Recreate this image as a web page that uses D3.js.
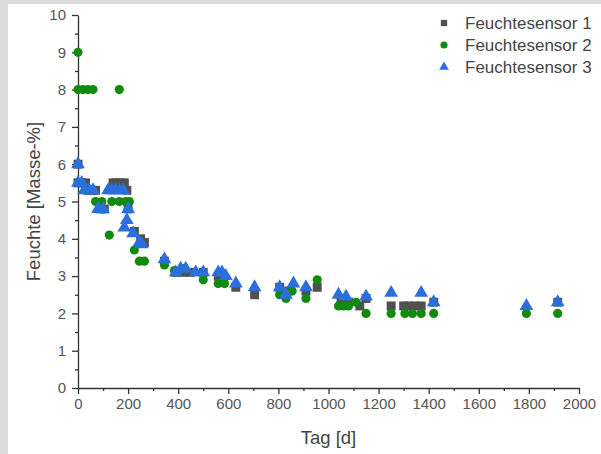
<!DOCTYPE html>
<html>
<head>
<meta charset="utf-8">
<script src="https://cdn.jsdelivr.net/npm/d3@7"></script>
<style>
	body { margin: 0; background: #dcdcdc; }
	text { font-family: "Liberation Sans", Arial, sans-serif; }
</style>
</head>
<body>
<div id="container"></div>
<script>
// sensor readings, day / moisture value
const days1 = [0, 0, 15, 30, 40, 55, 70, 90, 105, 140, 155, 170, 185, 195, 200, 225, 250, 265, 345, 390, 420, 450, 500, 560, 580, 630, 705, 805, 840, 910, 955, 1050, 1080, 1125, 1150, 1250, 1300, 1320, 1345, 1370, 1420, 1915];
const vals1 = [6.0, 5.5, 5.5, 5.5, 5.3, 5.3, 5.3, 4.8, 4.8, 5.5, 5.5, 5.5, 5.5, 5.3, 4.8, 4.2, 4.0, 3.9, 3.4, 3.1, 3.1, 3.1, 3.1, 3.0, 2.9, 2.7, 2.5, 2.7, 2.6, 2.6, 2.7, 2.3, 2.3, 2.2, 2.4, 2.2, 2.2, 2.2, 2.2, 2.2, 2.3, 2.3];

const days2 = [0, 0, 20, 40, 60, 165, 70, 95, 125, 135, 165, 190, 205, 225, 245, 265, 345, 385, 420, 500, 560, 585, 805, 830, 855, 910, 955, 1040, 1060, 1080, 1110, 1150, 1250, 1305, 1335, 1370, 1420, 1790, 1915];
const vals2 = [9.0, 8.0, 8.0, 8.0, 8.0, 8.0, 5.0, 5.0, 4.1, 5.0, 5.0, 5.0, 5.0, 3.7, 3.4, 3.4, 3.3, 3.15, 3.2, 2.9, 2.8, 2.8, 2.5, 2.4, 2.6, 2.4, 2.9, 2.2, 2.2, 2.2, 2.3, 2.0, 2.0, 2.0, 2.0, 2.0, 2.0, 2.0, 2.0];

const days3 = [0, 0, 15, 25, 45, 60, 80, 100, 120, 135, 150, 165, 180, 185, 195, 200, 220, 245, 255, 345, 390, 410, 430, 470, 500, 560, 575, 590, 630, 705, 805, 830, 860, 910, 1040, 1070, 1150, 1250, 1370, 1420, 1790, 1915];
const vals3 = [6.0, 5.5, 5.5, 5.3, 5.3, 5.3, 4.8, 4.8, 5.3, 5.3, 5.3, 5.3, 5.3, 4.3, 4.5, 4.8, 4.15, 3.9, 3.85, 3.45, 3.1, 3.2, 3.2, 3.1, 3.1, 3.1, 3.1, 3.0, 2.8, 2.7, 2.7, 2.5, 2.8, 2.7, 2.5, 2.45, 2.45, 2.55, 2.55, 2.3, 2.2, 2.3];

const seriesNames = ["Feuchtesensor 1", "Feuchtesensor 2", "Feuchtesensor 3"];
const xTicks = [0, 200, 400, 600, 800, 1000, 1200, 1400, 1600, 1800, 2000];
const yTicks = [0, 1, 2, 3, 4, 5, 6, 7, 8, 9, 10];

const w = 601;
const h = 454;
const margin = {top: 15, left: 78, bottom: 66, right: 22};

const colors = ["#505050", "#12890f", "#2b6fdc"];
const shapes = [d3.symbolSquare, d3.symbolCircle, d3.symbolTriangle];
const sizes = [80, 66, 82];

const svg = d3.select("#container").append("svg").attr("width", w).attr("height", h);

// grey frame with white panel
svg.append("rect").attr("width", w).attr("height", h).attr("fill", "#dcdcdc");
svg.append("rect").attr("x", 8).attr("y", 4).attr("width", w - 8).attr("height", h - 4).attr("fill", "#fff");

const xScale = d3.scaleLinear()
	.domain([0, 2000])
	.range([margin.left, w - margin.right]);

const yScale = d3.scaleLinear()
	.domain([0, 10])
	.range([h - margin.bottom, margin.top]);

// minor ticks first, then the major axis on top
svg.append("g")
	.attr("transform", `translate(0, ${yScale(0)})`)
	.call(d3.axisBottom(xScale).tickValues(d3.range(100, 2000, 200)).tickSize(3).tickFormat(""))
	.call(g => g.select(".domain").remove());
svg.append("g")
	.attr("transform", `translate(${xScale(0)}, 0)`)
	.call(d3.axisLeft(yScale).tickValues(d3.range(0.5, 10, 1)).tickSize(3).tickFormat(""))
	.call(g => g.select(".domain").remove());

const xAxisGroup = svg.append("g").attr("transform", `translate(0, ${yScale(0)})`);
const yAxisGroup = svg.append("g").attr("transform", `translate(${xScale(0)}, 0)`);

xAxisGroup.call(d3.axisBottom(xScale).tickValues(xTicks).tickSize(6).tickSizeOuter(0).tickPadding(4).tickFormat(d3.format("d")));
yAxisGroup.call(d3.axisLeft(yScale).tickValues(yTicks).tickSize(6).tickSizeOuter(0).tickPadding(6));

svg.selectAll(".domain, .tick line").attr("stroke", "#333").attr("stroke-width", 1.3);
svg.selectAll(".tick text").attr("fill", "#555").style("font-size", "15px");

svg.append("text")
	.attr("transform", `translate(40, ${(yScale(0) + yScale(10)) / 2}) rotate(-90)`)
	.attr("text-anchor", "middle")
	.attr("fill", "#444")
	.style("font-size", "18.5px")
	.text("Feuchte [Masse-%]");

svg.append("text")
	.attr("x", (xScale(0) + xScale(2000)) / 2)
	.attr("y", 444)
	.attr("text-anchor", "middle")
	.attr("fill", "#444")
	.style("font-size", "18.5px")
	.text("Tag [d]");

const series = [
	days1.map((d, i) => ({day: d, val: vals1[i]})),
	days2.map((d, i) => ({day: d, val: vals2[i]})),
	days3.map((d, i) => ({day: d, val: vals3[i]}))
];

series.forEach((data, k) => {
	svg.append("g").selectAll("path")
		.data(data)
		.enter()
		.append("path")
			.attr("transform", d => `translate(${xScale(d.day)}, ${yScale(d.val)})`)
			.attr("d", d3.symbol().type(shapes[k]).size(sizes[k]))
			.attr("fill", colors[k]);
});

const legend = svg.append("g");
seriesNames.forEach((name, k) => {
	const y = 23 + k * 22;
	legend.append("path")
		.attr("transform", `translate(444, ${y})`)
		.attr("d", d3.symbol().type(shapes[k]).size(40))
		.attr("fill", colors[k]);
	legend.append("text")
		.attr("x", 465)
		.attr("y", y + 6)
		.attr("fill", "#444")
		.style("font-size", "17px")
		.text(name);
});
</script>
</body>
</html>
